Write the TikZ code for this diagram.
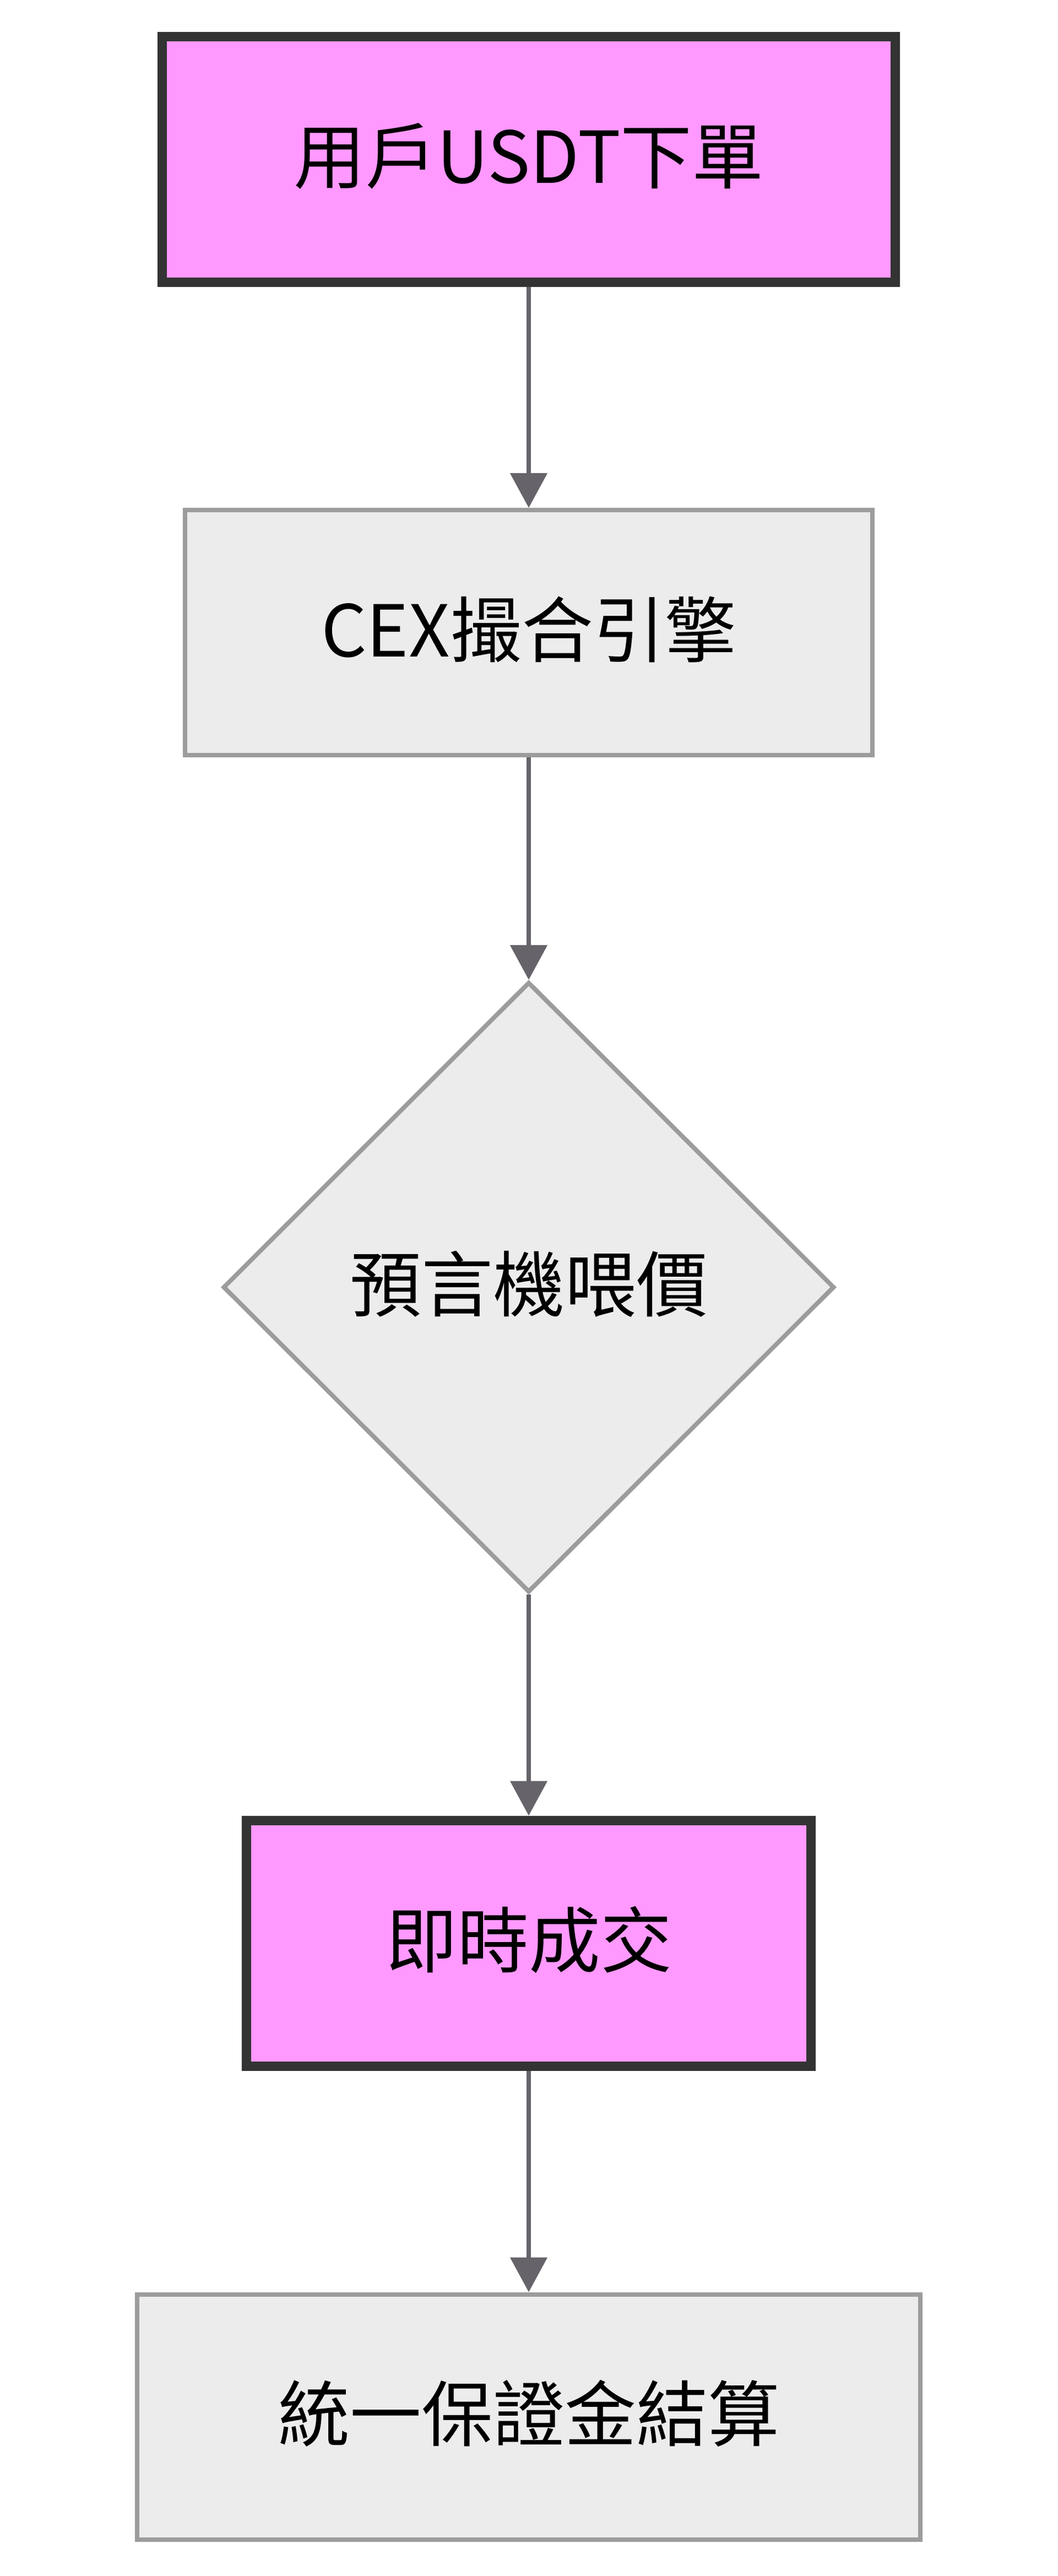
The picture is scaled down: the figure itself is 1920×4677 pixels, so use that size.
\documentclass[tikz,border=0pt]{standalone}
\usepackage{fontspec}
\setmainfont{Noto Sans CJK TC}
\usetikzlibrary{shapes.geometric,arrows.meta}
\definecolor{pinkfill}{HTML}{FF99FF}
\definecolor{darkline}{HTML}{333333}
\definecolor{greyfill}{HTML}{ECECEC}
\definecolor{greyline}{HTML}{9C9C9C}
\definecolor{arrowgrey}{HTML}{67636A}
\begin{document}
\begin{tikzpicture}[x=1pt, y=-1pt,
	every node/.style={font=\fontsize{130pt}{150pt}\selectfont, inner sep=0pt, text height=110pt, text depth=23pt},
	pinkbox/.style={draw=darkline, fill=pinkfill, line width=17pt, rectangle, minimum height=446pt},
	greybox/.style={draw=greyline, fill=greyfill, line width=8pt, rectangle, minimum height=445pt},
	decision/.style={draw=greyline, fill=greyfill, line width=8pt, diamond, aspect=1, minimum width=1110pt, minimum height=1108pt},
	flow/.style={draw=arrowgrey, line width=8pt, -{Triangle[length=63pt, width=66pt]}}]
	\useasboundingbox (0,0) rectangle (1920,4677);
	\fill[white] (0,0) rectangle (1920,4677);
	\node[pinkbox, minimum width=1331pt] (Order) at (960, 289) {用戶USDT下單};
	\node[greybox, minimum width=1248pt] (Matching) at (960, 1148.5) {CEX撮合引擎};
	\node[decision] (Oracle) at (960, 2337) {預言機喂價};
	\node[pinkbox, minimum width=1025pt] (Fill) at (960, 3528) {即時成交};
	\node[greybox, minimum width=1422pt] (Settlement) at (960, 4388) {統一保證金結算};
	\draw[flow] (Order) -- (Matching);
	\draw[flow] (Matching) -- (Oracle);
	\draw[flow] (Oracle) -- (Fill);
	\draw[flow] (Fill) -- (Settlement);
\end{tikzpicture}
\end{document}
